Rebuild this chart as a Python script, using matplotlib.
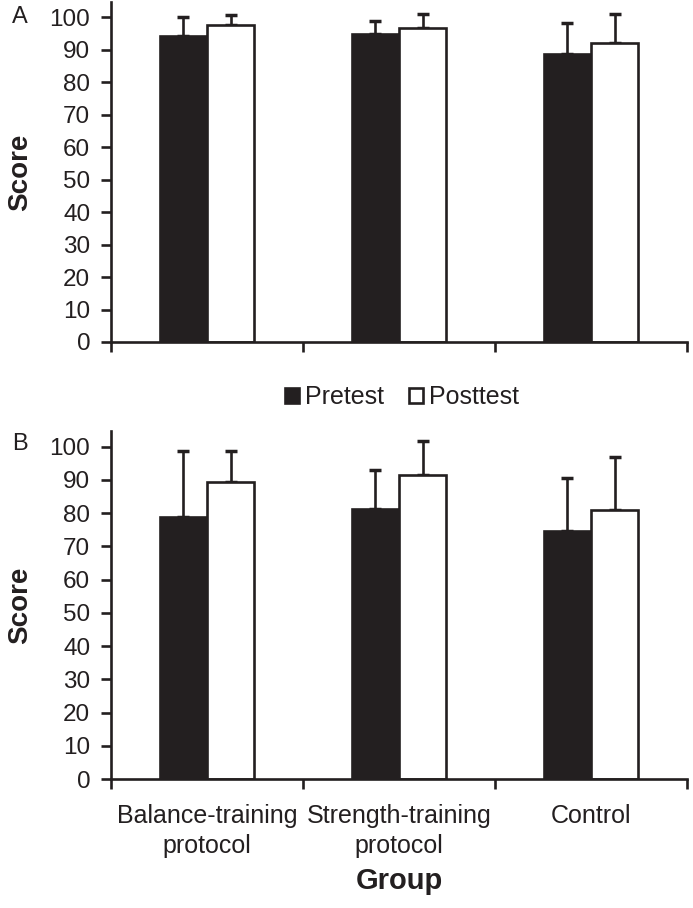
import matplotlib
matplotlib.use("Agg")
import matplotlib.pyplot as plt
import numpy as np
from matplotlib.patches import Patch

plt.rcParams['font.family'] = ['Liberation Sans', 'DejaVu Sans']

groups = ["Balance-training\nprotocol", "Strength-training\nprotocol", "Control"]
series = ["Pretest", "Posttest"]
yticks = [0, 10, 20, 30, 40, 50, 60, 70, 80, 90, 100]

# Panel A
a_pre = [94.3, 94.7, 88.6]
a_pre_err = [5.9, 4.3, 9.5]
a_post = [97.5, 96.8, 92.1]
a_post_err = [3.2, 4.3, 8.8]

# Panel B
b_pre = [78.8, 81.1, 74.5]
b_pre_err = [19.8, 12.0, 16.0]
b_post = [89.3, 91.5, 80.9]
b_post_err = [9.3, 10.1, 16.0]

ink = "#231f20"
W, H = 693, 908
fig = plt.figure(figsize=(W / 100, H / 100), dpi=100)

left, right = 111 / W, 687 / W
axA = fig.add_axes([left, 1 - 342 / H, right - left, 340 / H])
axB = fig.add_axes([left, 1 - 779 / H, right - left, 348 / H])

bw = 0.245
lw = 1.9

def draw(ax, pre, pre_err, post, post_err, show_labels):
    x = np.arange(len(groups)) + 0.5
    ax.bar(x - bw / 2, pre, width=bw, color=ink, edgecolor=ink, linewidth=lw, zorder=2)
    ax.bar(x + bw / 2, post, width=bw, color="white", edgecolor=ink, linewidth=lw, zorder=2)
    ax.errorbar(x - bw / 2, pre, yerr=[np.zeros(len(pre)), pre_err], fmt="none",
                ecolor=ink, elinewidth=lw, capsize=4, capthick=lw + 0.6, zorder=1)
    ax.errorbar(x + bw / 2, post, yerr=[np.zeros(len(post)), post_err], fmt="none",
                ecolor=ink, elinewidth=lw, capsize=4, capthick=lw + 0.6, zorder=1)
    ax.set_xlim(0, len(groups))
    ax.set_ylim(0, 104.7)
    ax.set_yticks(yticks)
    ax.set_yticklabels([str(t) for t in yticks])
    ax.set_xticks(np.arange(len(groups) + 1))
    ax.set_xticklabels([])
    ax.set_xticks(x, minor=True)
    if show_labels:
        ax.set_xticklabels(groups, minor=True, linespacing=1.3)
    else:
        ax.set_xticklabels([], minor=True)
    ax.tick_params(axis="x", which="minor", length=0, pad=18, labelsize=18, colors=ink)
    ax.tick_params(axis="x", which="major", direction="out", length=7, width=lw, color=ink)
    ax.tick_params(axis="y", direction="out", length=7, width=lw, color=ink,
                   labelsize=17.5, labelcolor=ink, pad=8)
    for s in ["top", "right"]:
        ax.spines[s].set_visible(False)
    for s in ["left", "bottom"]:
        ax.spines[s].set_linewidth(lw)
        ax.spines[s].set_color(ink)
    ax.set_ylabel("Score", fontsize=20, fontweight="bold", color=ink, labelpad=12)

draw(axA, a_pre, a_pre_err, a_post, a_post_err, False)
draw(axB, b_pre, b_pre_err, b_post, b_post_err, True)
axB.set_xlabel("Group", fontsize=21, fontweight="bold", color=ink, labelpad=7)

fig.text(20 / W, 1 - 17 / H, "A", fontsize=17, color=ink, ha="center", va="center")
fig.text(20 / W, 1 - 444 / H, "B", fontsize=17, color=ink, ha="center", va="center")

handles = [Patch(facecolor=ink, edgecolor=ink, linewidth=lw, label=series[0]),
           Patch(facecolor="white", edgecolor=ink, linewidth=lw, label=series[1])]
fig.legend(handles=handles, loc="center", bbox_to_anchor=(402 / W, 1 - 397 / H),
           ncol=2, frameon=False, fontsize=18, handlelength=0.55, handleheight=0.55,
           handletextpad=0.25, columnspacing=1.0, labelcolor=ink)

fig.savefig("out.png", dpi=100)
